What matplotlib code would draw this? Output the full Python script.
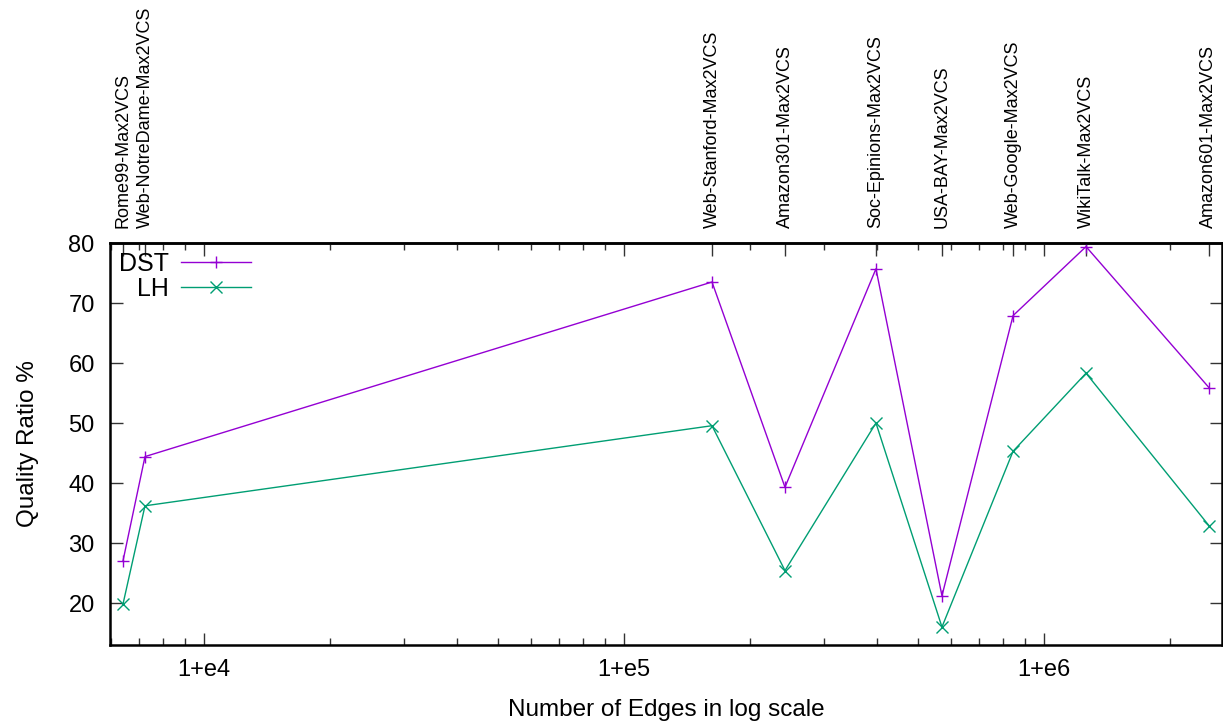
import matplotlib
matplotlib.use("Agg")
import matplotlib.pyplot as plt
from matplotlib.ticker import LogLocator, NullFormatter, FixedLocator, FixedFormatter

plt.rcParams['font.family'] = ['Liberation Sans', 'DejaVu Sans']

graphs = ["Rome99-Max2VCS", "Web-NotreDame-Max2VCS", "Web-Stanford-Max2VCS",
          "Amazon301-Max2VCS", "Soc-Epinions-Max2VCS", "USA-BAY-Max2VCS",
          "Web-Google-Max2VCS", "WikiTalk-Max2VCS", "Amazon601-Max2VCS"]
edges = [6414, 7237, 162000, 241700, 398000, 571500, 844000, 1259000, 2470000]
dst = [27.0, 44.4, 73.5, 39.3, 75.7, 21.2, 67.9, 79.4, 55.9]
lh = [19.8, 36.2, 49.55, 25.4, 50.0, 16.0, 45.3, 58.3, 32.9]
major_ticks = [1e4, 1e5, 1e6]
major_labels = ["1+e4", "1+e5", "1+e6"]

fig = plt.figure(figsize=(12.23, 7.22), dpi=100)
ax = fig.add_axes([110/1223, 1-645/722, 1112/1223, 402/722])

ax.plot(edges, dst, color='#9400D3', lw=1.0, marker='+', ms=9, mew=1.0, label='DST')
ax.plot(edges, lh, color='#009E73', lw=1.0, marker='x', ms=9, mew=1.0, label='LH')

ax.set_xscale('log')
ax.set_xlim(5974, 2.653e6)
ax.set_ylim(13, 80)
ax.set_yticks([20, 30, 40, 50, 60, 70, 80])

ax.xaxis.set_major_locator(FixedLocator(major_ticks))
ax.xaxis.set_major_formatter(FixedFormatter(major_labels))
ax.xaxis.set_minor_locator(LogLocator(base=10, subs=range(2, 10)))
ax.xaxis.set_minor_formatter(NullFormatter())

ax.tick_params(axis='both', which='major', direction='in', length=9, width=1.0,
               labelsize=17, top=True, right=True, color='#333333')
ax.tick_params(axis='x', which='major', pad=10)
ax.tick_params(axis='y', which='major', pad=11)
ax.tick_params(axis='x', which='minor', direction='in', length=5, width=1.0,
               top=True, color='#333333')
for s in ax.spines.values():
    s.set_linewidth(1.8)

sec = ax.secondary_xaxis('top')
sec.set_xticks(edges)
sec.set_xticklabels(graphs, rotation=90, fontsize=13)
sec.xaxis.set_minor_locator(FixedLocator([]))
sec.tick_params(axis='x', which='major', direction='in', length=9, width=1.0,
                pad=11, color='#333333')
sec.spines['top'].set_linewidth(1.8)

ax.set_xlabel('Number of Edges in log scale', fontsize=17.5, labelpad=13)
ax.set_ylabel('Quality Ratio %', fontsize=17.5, labelpad=21)

ax.legend(loc='upper left', frameon=False, markerfirst=False, fontsize=18,
          handlelength=2.8, handletextpad=0.5, labelspacing=0.05,
          borderaxespad=0.05, borderpad=0.3)

fig.savefig('out.png', dpi=100)
